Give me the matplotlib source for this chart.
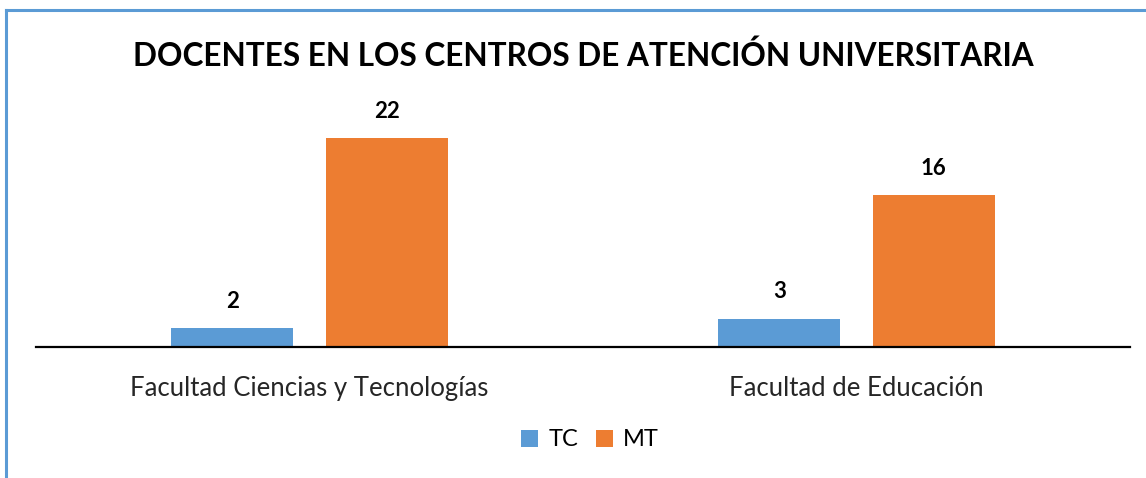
import matplotlib.pyplot as plt
from matplotlib.lines import Line2D
import numpy as np

# Datos: docentes por facultad
facultades = ['Facultad Ciencias y Tecnologías', 'Facultad de Educación']
tc = [2, 3]
mt = [22, 16]

azul = '#5B9BD5'
naranja = '#ED7D31'

plt.rcParams['font.family'] = ['Lato', 'DejaVu Sans']

fig = plt.figure(figsize=(11.46, 4.78), dpi=100)
ax = fig.add_axes([36 / 1146, 1 - 347 / 478, 1094 / 1146, 247 / 478])

x = np.arange(len(facultades))
ancho = 0.223
desp = 0.141
b1 = ax.bar(x - desp, tc, ancho, color=azul, label='TC')
b2 = ax.bar(x + desp, mt, ancho, color=naranja, label='MT')

# valores encima de las barras
for barras in (b1, b2):
    for b in barras:
        ax.annotate(f'{b.get_height():.0f}', (b.get_x() + b.get_width() / 2, b.get_height()),
                    xytext=(0, 16), textcoords='offset pixels', ha='center', va='bottom',
                    fontsize=16, fontweight='bold', color='#000000')

ax.set_xlim(-0.5, 1.5)
ax.set_ylim(0, 26)
ax.set_xticks(x)
ax.set_xticklabels(facultades, fontsize=18.5, color='#262626')
ax.tick_params(axis='x', length=0, pad=21)
ax.set_yticks([])
for s in ['top', 'right', 'left']:
    ax.spines[s].set_visible(False)
ax.spines['bottom'].set_linewidth(1.6)
ax.spines['bottom'].set_color('#000000')

fig.text(583 / 1146, 1 - 56 / 478, 'DOCENTES EN LOS CENTROS DE ATENCIÓN UNIVERSITARIA',
         ha='center', va='center', fontsize=22.7, fontweight='bold')

fig.legend(loc='center', bbox_to_anchor=(0.515, 1 - 440 / 478), ncol=2, frameon=False,
           fontsize=17, handlelength=0.72, handleheight=0.72, handletextpad=0.42, columnspacing=0.76)

# borde azul del recuadro
fig.add_artist(Line2D([6 / 1146, 6 / 1146], [0, 1 - 10 / 478], color=azul, lw=2.2, transform=fig.transFigure))
fig.add_artist(Line2D([6 / 1146, 1], [1 - 10 / 478, 1 - 10 / 478], color=azul, lw=2.2, transform=fig.transFigure))

fig.savefig('out.png', dpi=100, facecolor='white')
